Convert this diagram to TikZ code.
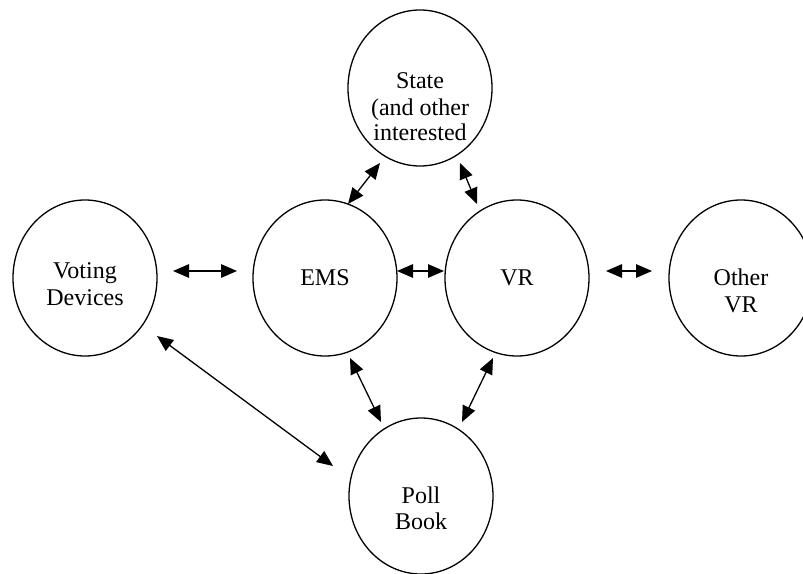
\documentclass[tikz,border=0pt]{standalone}
\usepackage{fontspec}
\setmainfont{Liberation Serif}
\usetikzlibrary{shapes.geometric,arrows.meta}
\begin{document}
\begin{tikzpicture}[x=1pt,y=-1pt,
  blob/.style={draw,line width=1.3pt,ellipse,inner sep=0pt,minimum width=144pt,minimum height=156pt},
  lbl/.style={font=\fontsize{24}{28}\selectfont,align=center,inner sep=0pt,anchor=base},
  link/.style={line width=1.3pt,{Triangle[length=16pt,width=13.5pt]}-{Triangle[length=16pt,width=13.5pt]}}]
\useasboundingbox (0,0) rectangle (803,573);
\node[blob] (state) at (420,88) {};
\node[blob] (vd) at (85,278) {};
\node[blob] (ems) at (325,278) {};
\node[blob] (vr) at (517,278) {};
\node[blob] (other) at (741,278) {};
\node[blob] (poll) at (421,496) {};
% labels
\node[lbl] (tstate1) at (420,88) {State};
\node[lbl] (tstate2) at (420,115) {(and other};
\node[lbl] (tstate3) at (420,140) {interested};
\node[lbl] (tvd1) at (85,278) {Voting};
\node[lbl] (tvd2) at (85,305) {Devices};
\node[lbl] (tems) at (325,285) {EMS};
\node[lbl] (tvr) at (517,285) {VR};
\node[lbl] (tother1) at (741,285) {Other};
\node[lbl] (tother2) at (741,312) {VR};
\node[lbl] (tpoll1) at (421,503) {Poll};
\node[lbl] (tpoll2) at (421,529) {Book};
% arrow ends
\coordinate (a1) at (173,271); \coordinate (a2) at (237,271);
\coordinate (b1) at (397,271); \coordinate (b2) at (444,271);
\coordinate (c1) at (606,271); \coordinate (c2) at (652,271);
\coordinate (d1) at (380,163); \coordinate (d2) at (348,204);
\coordinate (e1) at (460,163); \coordinate (e2) at (477,204);
\coordinate (f1) at (350,358); \coordinate (f2) at (381,422);
\coordinate (g1) at (493,358); \coordinate (g2) at (462,422);
\coordinate (h1) at (157,336); \coordinate (h2) at (333,466);
\draw[link] (a1) -- (a2);
\draw[link] (b1) -- (b2);
\draw[link] (c1) -- (c2);
\draw[link] (d1) -- (d2);
\draw[link] (e1) -- (e2);
\draw[link] (f1) -- (f2);
\draw[link] (g1) -- (g2);
\draw[link] (h1) -- (h2);
\end{tikzpicture}
\end{document}
